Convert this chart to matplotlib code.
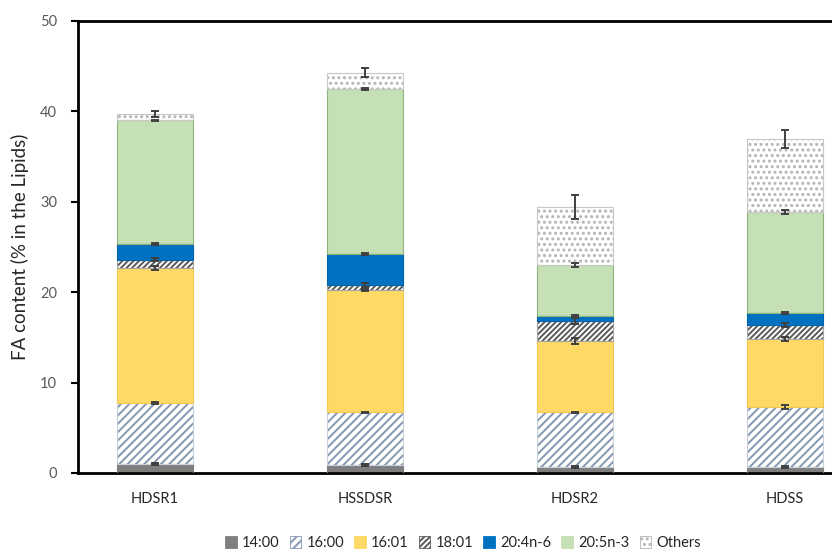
import matplotlib
matplotlib.use("Agg")
import matplotlib.pyplot as plt
from matplotlib.patches import Patch
import numpy as np

plt.rcParams["font.family"] = ["Lato", "DejaVu Sans"]
plt.rcParams["hatch.linewidth"] = 1.4

samples = ["HDSR1", "HSSDSR", "HDSR2", "HDSS"]
fatty_acids = ["14:00", "16:00", "16:01", "18:01", "20:4n-6", "20:5n-3", "Others"]

c14_0 = [1.0, 0.9, 0.7, 0.7]
c16_0 = [6.7, 5.8, 6.0, 6.6]
c16_1 = [15.0, 13.5, 7.9, 7.5]
c18_1 = [0.9, 0.6, 2.2, 1.6]
c20_4n6 = [1.7, 3.4, 0.6, 1.3]
c20_5n3 = [13.7, 18.3, 5.6, 11.2]
others = [0.7, 1.8, 6.4, 8.0]

err_14_0 = [0.1, 0.1, 0.1, 0.1]
err_16_0 = [0.1, 0.1, 0.1, 0.2]
err_16_1 = [0.2, 0.1, 0.3, 0.2]
err_18_1 = [0.2, 0.2, 0.3, 0.2]
err_20_4n6 = [0.1, 0.1, 0.1, 0.1]
err_20_5n3 = [0.1, 0.1, 0.2, 0.2]
err_others = [0.3, 0.5, 1.3, 1.0]

series = [c14_0, c16_0, c16_1, c18_1, c20_4n6, c20_5n3, others]
errors = [err_14_0, err_16_0, err_16_1, err_18_1, err_20_4n6, err_20_5n3, err_others]

# face colour, hatch, hatch colour, outline colour
styles = [
    ("#7f7f7f", None, "#7f7f7f", "#7f7f7f"),
    ("white", "////", "#8497b0", "#c8d0dc"),
    ("#ffd966", None, "#ffd966", "#f2c94c"),
    ("white", "//////", "#595959", "#a6a6a6"),
    ("#0070c0", None, "#0070c0", "#0064ac"),
    ("#c5e0b4", None, "#c5e0b4", "#8fb47a"),
    ("white", "...", "#b4b4b4", "#c8c8c8"),
]

fig = plt.figure(figsize=(8.32, 5.51), dpi=100)
ax = fig.add_axes([78 / 832, 78 / 551, 784 / 832, 452 / 551])

x = np.arange(len(samples))
width = 0.36
bottom = np.zeros(len(samples))
handles = []
for vals, errs, name, (fc, hatch, hc, ec) in zip(series, errors, fatty_acids, styles):
    vals = np.array(vals)
    ax.bar(x, vals, width, bottom=bottom, color=fc, hatch=hatch,
           edgecolor=hc, linewidth=0, zorder=2)
    ax.bar(x, vals, width, bottom=bottom, facecolor="none",
           edgecolor=ec, linewidth=0.8, zorder=3)
    top = bottom + vals
    ax.errorbar(x, top, yerr=errs, fmt="none", ecolor="#404040",
                elinewidth=1.4, capsize=3, capthick=1.4, zorder=4)
    bottom = top
    handles.append(Patch(facecolor=fc, hatch=hatch, edgecolor=hc,
                         linewidth=0.6, label=name))

ax.set_xlim(-0.367, 3.367)
ax.set_ylim(0, 50)
ax.set_yticks(np.arange(0, 51, 10))
ax.set_xticks(x)
ax.set_xticklabels(samples, fontsize=10.5, color="#262626")
ax.tick_params(axis="x", length=0, pad=14)
ax.tick_params(axis="y", length=5, width=1.5, colors="black",
               labelcolor="#595959", labelsize=10.5, pad=10)

for side in ["left", "bottom", "top"]:
    ax.spines[side].set_linewidth(2)
    ax.spines[side].set_color("black")
ax.spines["right"].set_visible(False)

ax.set_ylabel("FA content (% in the Lipids)", fontsize=13.5, color="#262626",
              labelpad=8)

fig.legend(handles=handles, loc="center", bbox_to_anchor=(463 / 832, 1 - 543 / 551),
           ncol=7, frameon=False, fontsize=10.5, handlelength=0.8,
           handleheight=0.8, handletextpad=0.35, columnspacing=0.7,
           labelcolor="#262626")

fig.savefig("out.png", dpi=100)
